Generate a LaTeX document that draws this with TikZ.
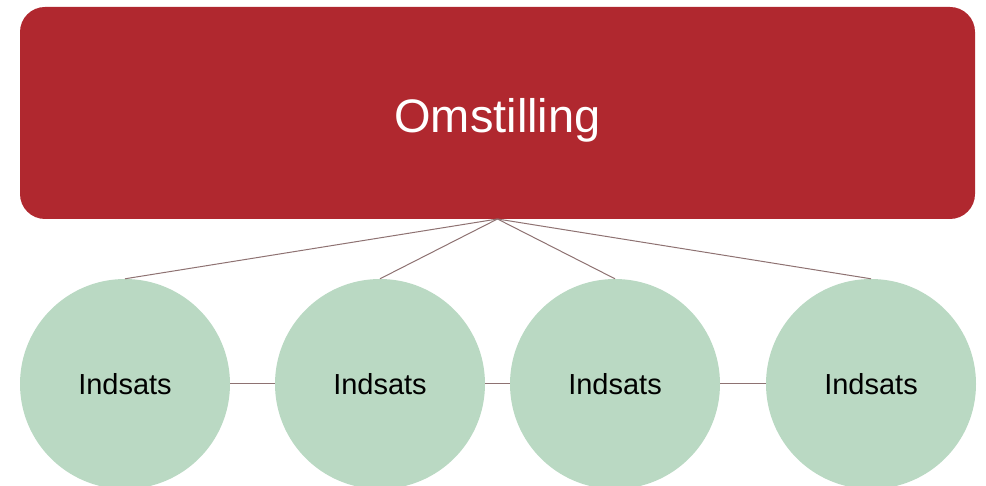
\documentclass[tikz,border=0pt]{standalone}
\usepackage{fontspec}
\setmainfont{Liberation Sans}
\definecolor{boxred}{HTML}{B0282F}
\definecolor{circgreen}{HTML}{BAD9C3}
\definecolor{linegray}{HTML}{8E7272}
\begin{document}
\begin{tikzpicture}[x=1pt,y=1pt,
  topbox/.style={draw=none,fill=boxred,rounded corners=25pt,minimum width=955pt,minimum height=212pt,inner sep=0pt},
  toptext/.style={text=white,inner sep=0pt,anchor=base,font=\fontsize{47}{50}\selectfont},
  item/.style={circle,draw=none,fill=circgreen,minimum size=210pt,inner sep=0pt,font=\fontsize{29}{33}\selectfont},
  conn/.style={draw=linegray,line width=1pt}]
\useasboundingbox (0,0) rectangle (986,485);
\node[topbox] (top) at (497.5,372) {};
\node[toptext] (title) at (497.5,352) {Omstilling};
\coordinate (apex) at (497.5,266);
\node[item] (c1) at (125,101) {Indsats};
\node[item] (c2) at (380,101) {Indsats};
\node[item] (c3) at (615,101) {Indsats};
\node[item] (c4) at (871,101) {Indsats};
\draw[conn] (apex) -- (c1.north);
\draw[conn] (apex) -- (c2.north);
\draw[conn] (apex) -- (c3.north);
\draw[conn] (apex) -- (c4.north);
\draw[conn] (c1.east) -- (c2.west);
\draw[conn] (c2.east) -- (c3.west);
\draw[conn] (c3.east) -- (c4.west);
\end{tikzpicture}
\end{document}
